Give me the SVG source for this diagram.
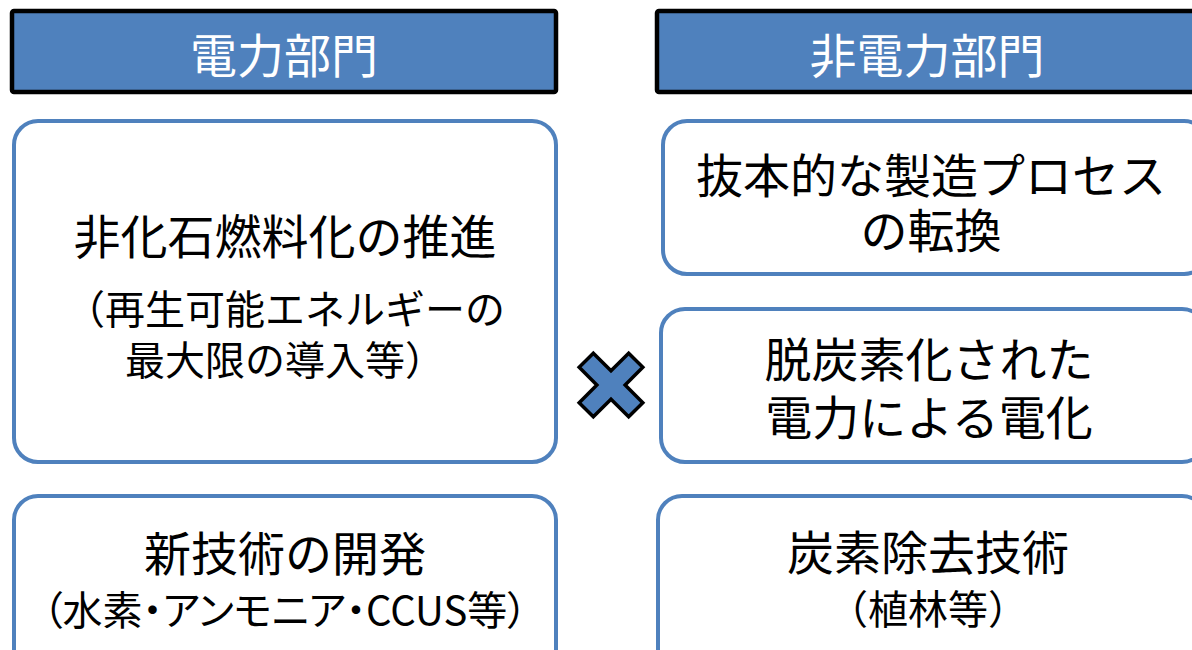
<svg xmlns="http://www.w3.org/2000/svg" width="1192" height="650" viewBox="0 0 1192 650">
<style>
.hdr{fill:#4F81BD;stroke:#000;stroke-width:4.5}
.box{fill:#fff;stroke:#4F81BD;stroke-width:4}
text{font-family:"Noto Sans CJK JP","Noto Sans CJK SC",sans-serif;text-anchor:middle;dominant-baseline:central}
.ht{fill:#fff;font-size:47px}
.mt{fill:#000;font-size:47px}
.st{fill:#000;font-size:40px}
.palt{font-feature-settings:"palt" 1}
</style>
<rect width="1192" height="650" fill="#fff"/>
<g id="header-power">
<rect class="hdr" x="12" y="11" width="544" height="81" rx="2"/>
<text class="ht" x="284" y="52">電力部門</text>
</g>
<g id="header-nonpower">
<rect class="hdr" x="657" y="11" width="545" height="81" rx="2"/>
<text class="ht" x="927" y="52">非電力部門</text>
</g>
<g id="node-nonfossil">
<rect class="box" x="14" y="121" width="542" height="341" rx="24"/>
<text class="mt" x="285" y="233">非化石燃料化の推進</text>
<text class="st" x="285" y="307">（再生可能エネルギーの</text>
<text class="st" x="285" y="358">最大限の導入等）</text>
</g>
<g id="node-newtech">
<rect class="box" x="14" y="496" width="542" height="180" rx="24"/>
<text class="mt" x="285" y="550">新技術の開発</text>
<text class="st palt" x="285" y="608">（水素・アンモニア・CCUS等）</text>
</g>
<g id="node-process">
<rect class="box" x="663" y="121" width="545" height="153" rx="24"/>
<text class="mt" x="931" y="172">抜本的な製造プロセス</text>
<text class="mt" x="931" y="227">の転換</text>
</g>
<g id="node-electrification">
<rect class="box" x="661" y="309" width="545" height="153" rx="24"/>
<text class="mt" x="929" y="356">脱炭素化された</text>
<text class="mt" x="929" y="414">電力による電化</text>
</g>
<g id="node-removal">
<rect class="box" x="658" y="496" width="548" height="180" rx="24"/>
<text class="mt" x="928" y="549">炭素除去技術</text>
<text class="st" x="928" y="607">（植林等）</text>
</g>
<g id="connectors">
<g id="times" transform="translate(611 385) rotate(45)">
<polygon points="10,-35 10,-10 35,-10 35,10 10,10 10,35 -10,35 -10,10 -35,10 -35,-10 -10,-10 -10,-35" fill="#4F81BD" stroke="#000" stroke-width="3.5" stroke-linejoin="miter"/>
</g>
</g>
</svg>
